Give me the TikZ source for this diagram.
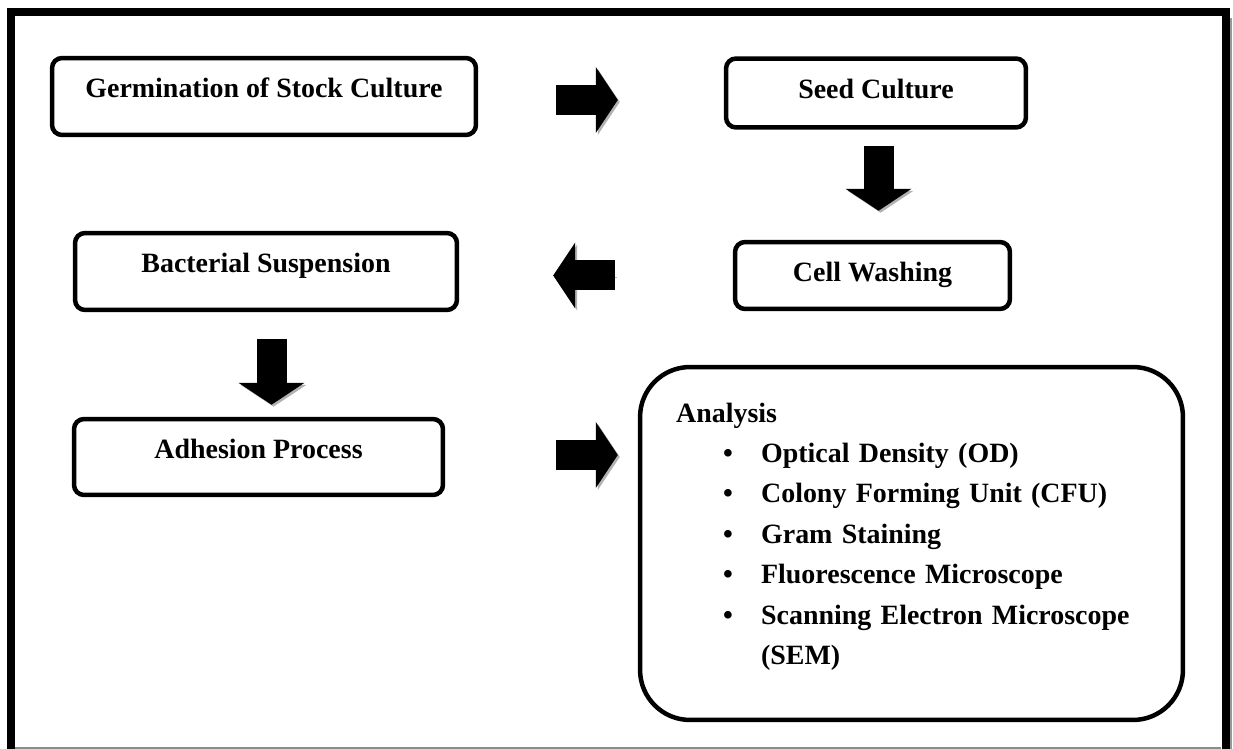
\documentclass[tikz,border=0pt]{standalone}
\usepackage{fontspec}
\setmainfont{Liberation Serif}
\usetikzlibrary{arrows.meta}

\begin{document}
\begin{tikzpicture}[
        x=0.02cm, y=-0.02cm,
        font=\fontsize{15.9}{23}\selectfont\bfseries
    ]
    \tikzset{
        stepbox/.style = {rectangle, rounded corners=0.2cm, draw=black, line width=0.09cm, align=center, inner ysep=0pt, text height=0.8cm},
        blockarrow/.style = {line width=0.6cm, -{Triangle[width=1.3cm,length=0.44cm]},
            preaction={draw=black!30, transform canvas={shift={(0.04cm,-0.04cm)}}}},
    }
    \useasboundingbox (0,0) rectangle (1233,749);
    \draw[line width=0.16cm] (11,752) -- (11,12) -- (1225.5,12) -- (1225.5,752);
    \draw[black!40, line width=0.05cm] (1231,18) -- (1231,749);
    \draw[black!45, line width=0.03cm] (15,748) -- (1221,748);

    \node[stepbox, minimum width=8.48cm, text depth=0.74cm] (germ) at (264,96.5) {Germination of Stock Culture};
    \node[stepbox, minimum width=6.0cm, text depth=0.58cm] (seed) at (876,93) {Seed Culture};
    \node[stepbox, minimum width=5.5cm, text depth=0.54cm] (cell) at (872.5,275.5) {Cell Washing};
    \node[stepbox, minimum width=7.64cm, text depth=0.74cm] (bact) at (266,271.5) {Bacterial Suspension};
    \node[stepbox, minimum width=7.38cm, text depth=0.72cm] (adh) at (258.5,457) {Adhesion Process};
    \node[rectangle, rounded corners=1cm, draw=black, line width=0.09cm, minimum width=10.86cm, minimum height=7.06cm] (ana) at (911.5,543.5) {};
    \node[anchor=north west, inner sep=0pt, text width=9.8cm, align=left] (analist) at ([xshift=0.76cm,yshift=-0.75cm]ana.north west) {Analysis\\
        \hspace*{0.94cm}\makebox[0.76cm][l]{\textbullet}Optical Density (OD)\\
        \hspace*{0.94cm}\makebox[0.76cm][l]{\textbullet}Colony Forming Unit (CFU)\\
        \hspace*{0.94cm}\makebox[0.76cm][l]{\textbullet}Gram Staining\\
        \hspace*{0.94cm}\makebox[0.76cm][l]{\textbullet}Fluorescence Microscope\\
        \hspace*{0.94cm}\makebox[0.76cm][l]{\textbullet}Scanning Electron Microscope\\
        \hspace*{1.7cm}(SEM)};

    \draw[blockarrow, shorten <=1.56cm, shorten >=2.12cm] ([yshift=-0.07cm]germ.east) -- ([yshift=-0.07cm]germ.east -| seed.west);
    \draw[blockarrow, shorten <=0.32cm, shorten >=0.58cm] ([xshift=0.05cm]seed.south) -- ([xshift=0.05cm]seed.south |- cell.north);
    \draw[blockarrow, shorten <=2.36cm, shorten >=1.88cm] (cell.west) -- (cell.west -| bact.east);
    \draw[blockarrow, shorten <=0.54cm, shorten >=0.24cm] ([xshift=0.11cm]bact.south) -- ([xshift=0.11cm]bact.south |- adh.north);
    \draw[blockarrow, shorten <=2.22cm, shorten >=0.4cm] ([yshift=0.04cm]adh.east) -- ([yshift=0.04cm]adh.east -| ana.west);
\end{tikzpicture}
\end{document}
